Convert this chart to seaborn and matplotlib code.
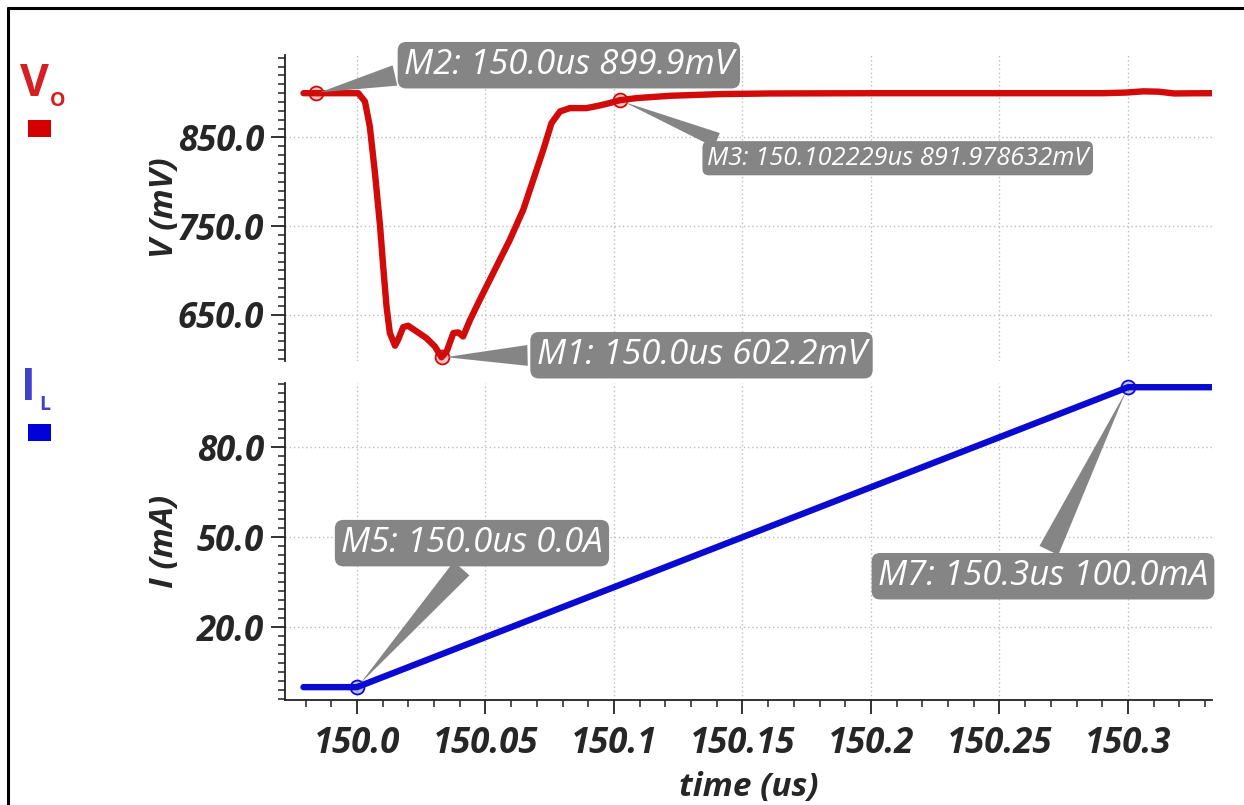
import matplotlib
matplotlib.use("Agg")
import matplotlib.pyplot as plt
import seaborn as sns
from matplotlib.ticker import FixedLocator, AutoMinorLocator, FixedFormatter
from matplotlib.lines import Line2D
from matplotlib.patches import Rectangle

# ---- waveform data -------------------------------------------------------
time_vo = [149.9792, 150.0005, 150.0031, 150.0050, 150.0070, 150.0090, 150.0102,
           150.0115, 150.0128, 150.0148, 150.0160, 150.0180, 150.0199, 150.0232,
           150.0270, 150.0303, 150.0329, 150.0349, 150.0375, 150.0394, 150.0413,
           150.0439, 150.0478, 150.0543, 150.0595, 150.0647, 150.0686, 150.0725,
           150.0757, 150.0790, 150.0828, 150.0893, 150.0939, 150.0984, 150.102229,
           150.1089, 150.1219, 150.1413, 150.1608, 150.2000, 150.2900, 150.2990,
           150.3060, 150.3120, 150.3180, 150.3250, 150.3327]
vo_mv = [899.9, 899.9, 890.6, 862.4, 809.9, 749.7, 704.6,
         659.5, 629.5, 615.2, 621.9, 636.2, 637.7, 631.3,
         623.8, 614.4, 602.2, 608.7, 629.5, 630.2, 625.6,
         643.6, 667.0, 704.6, 734.7, 768.5, 802.3, 836.1,
         866.2, 879.3, 883.1, 883.1, 885.7, 888.8, 891.978632,
         894.4, 897.0, 898.9, 899.6, 899.9, 899.9, 900.6,
         902.0, 901.6, 899.6, 899.8, 899.9]

time_il = [149.9792, 150.0, 150.3, 150.3327]
il_ma = [0.0, 0.0, 100.0, 100.0]

# measurement markers
vo_marker_names = ["M2", "M3", "M1"]
vo_marker_time = [149.984, 150.102229, 150.0329]
vo_marker_mv = [899.9, 891.978632, 602.2]
vo_marker_digits = [1, 6, 1]

il_marker_names = ["M5", "M7"]
il_marker_time = [150.0, 150.3]
il_marker_ma = [0.0, 100.0]

# axis ticks
x_ticks = [150.0, 150.05, 150.1, 150.15, 150.2, 150.25, 150.3]
x_tick_labels = ["150.0", "150.05", "150.1", "150.15", "150.2", "150.25", "150.3"]
vo_ticks = [650.0, 750.0, 850.0]
il_ticks = [20.0, 50.0, 80.0]

# ---- styling -------------------------------------------------------------
sns.set_style("ticks")
plt.rcParams["font.family"] = ["Open Sans", "DejaVu Sans"]

RED = "#d10a0a"
BLUE = "#0a0ad0"
BOX = "#858585"
GRID = "#bdbdbd"

fig = plt.figure(figsize=(12.44, 8.05), dpi=100)
ax_v = fig.add_axes([0.2291, 0.5516, 0.7452, 0.3801])
ax_i = fig.add_axes([0.2291, 0.1304, 0.7452, 0.3938])

xlim = (149.972, 150.3327)

sns.lineplot(x=time_vo, y=vo_mv, ax=ax_v, color=RED, linewidth=4.6, zorder=3)
sns.lineplot(x=time_il, y=il_ma, ax=ax_i, color=BLUE, linewidth=4.6, zorder=3)
for ln in ax_v.lines + ax_i.lines:
    ln.set_solid_joinstyle("round")

ax_v.set_ylim(598, 943)
ax_i.set_ylim(-4.3, 101.4)

tick_font = dict(family=["Open Sans", "DejaVu Sans"], style="italic", weight="bold", size=25)
label_font = dict(family=["Open Sans", "DejaVu Sans"], style="italic", weight="bold", size=24)

for ax, yt in ((ax_v, vo_ticks), (ax_i, il_ticks)):
    ax.set_xlim(*xlim)
    ax.xaxis.set_major_locator(FixedLocator(x_ticks))
    ax.xaxis.set_major_formatter(FixedFormatter(x_tick_labels))
    ax.xaxis.set_minor_locator(AutoMinorLocator(5))
    ax.yaxis.set_major_locator(FixedLocator(yt))
    ax.yaxis.set_major_formatter(FixedFormatter([f"{v:.1f}" for v in yt]))
    ax.yaxis.set_minor_locator(AutoMinorLocator(10))
    ax.grid(True, which="major", linestyle=(0, (1, 2)), color=GRID, linewidth=1.0)
    for side in ("top", "right"):
        ax.spines[side].set_visible(False)
    ax.spines["left"].set_color("#222222")
    ax.spines["left"].set_linewidth(1.3)
    ax.tick_params(axis="y", which="major", direction="out", length=10, width=1.3,
                   color="#222222", pad=5)
    ax.tick_params(axis="y", which="minor", direction="out", length=5, width=1.1,
                   color="#222222")
    for lab in ax.get_yticklabels():
        lab.set(**tick_font)
    ax.set_xlabel("")
    ax.set_ylabel("")

# upper pane: no bottom axis
ax_v.spines["bottom"].set_visible(False)
ax_v.tick_params(axis="x", which="both", bottom=False, labelbottom=False)

# lower pane: time axis
ax_i.spines["bottom"].set_color("#222222")
ax_i.spines["bottom"].set_linewidth(1.3)
ax_i.tick_params(axis="x", which="major", direction="out", length=10, width=1.3,
                 color="#222222", pad=9)
ax_i.tick_params(axis="x", which="minor", direction="out", length=5, width=1.1,
                 color="#222222")
for lab in ax_i.get_xticklabels():
    lab.set(**tick_font)

ax_v.set_ylabel("V (mV)", **label_font)
ax_i.set_ylabel("I (mA)", **label_font)
ax_i.set_xlabel("time (us)", labelpad=6, **label_font)
ax_v.yaxis.set_label_coords(-0.112, 0.5)
ax_i.yaxis.set_label_coords(-0.112, 0.5)

# ---- measurement markers and callouts -----------------------------------
note_font = dict(family=["Open Sans", "DejaVu Sans"], style="italic", color="white")

vo_offsets = [(253, 28), (278, -58), (260, 2)]
vo_relpos = [(0.02, 0.3), (0.07, 0.95), (0.0, 0.5)]
vo_sizes = [25, 18.3, 25]
for name, t, v, nd, off, rp, fs in zip(vo_marker_names, vo_marker_time, vo_marker_mv,
                                       vo_marker_digits, vo_offsets, vo_relpos, vo_sizes):
    ax_v.plot([t], [v], "o", ms=10, mfc=(0.82, 0.04, 0.04, 0.25), mec=RED, mew=1.3,
              zorder=4, clip_on=False)
    ax_v.annotate(f"{name}: {t:.{nd}f}us {v:.{nd}f}mV", xy=(t, v), xytext=off,
                  textcoords="offset pixels", ha="center", va="center", fontsize=fs,
                  bbox=dict(boxstyle="round,pad=0.18,rounding_size=0.25", fc=BOX, ec="none"),
                  arrowprops=dict(arrowstyle="wedge,tail_width=0.6,shrink_factor=0.5",
                                  fc=BOX, ec="none", relpos=rp, shrinkB=3),
                  zorder=5, annotation_clip=False, **note_font)

il_offsets = [(115, 144), (-85, -189)]
il_relpos = [(0.5, 0.1), (0.5, 0.9)]
for name, t, i, off, rp in zip(il_marker_names, il_marker_time, il_marker_ma,
                               il_offsets, il_relpos):
    ax_i.plot([t], [i], "o", ms=10, mfc=(0.04, 0.04, 0.82, 0.25), mec=BLUE, mew=1.3,
              zorder=4, clip_on=False)
    val = f"{i / 1000:.1f}A" if i == 0 else f"{i:.1f}mA"
    ax_i.annotate(f"{name}: {t:.1f}us {val}", xy=(t, i), xytext=off,
                  textcoords="offset pixels", ha="center", va="center", fontsize=25,
                  bbox=dict(boxstyle="round,pad=0.18,rounding_size=0.25", fc=BOX, ec="none"),
                  arrowprops=dict(arrowstyle="wedge,tail_width=0.6,shrink_factor=0.5",
                                  fc=BOX, ec="none", relpos=rp, shrinkB=3),
                  zorder=5, annotation_clip=False, **note_font)

# ---- signal legend on the left ------------------------------------------
W, H = 1244, 805
def fx(px):
    return px / W
def fy(py):
    return 1 - py / H

leg_font = dict(family=["Open Sans", "DejaVu Sans"], weight="bold")
fig.text(fx(20), fy(96), "V", color="#d42020", fontsize=32, ha="left", va="baseline", **leg_font)
fig.text(fx(50), fy(106), "O", color="#d42020", fontsize=14, ha="left", va="baseline", **leg_font)
fig.patches.append(Rectangle((fx(28), fy(137)), 23 / W, 17 / H, transform=fig.transFigure,
                             fc="#d40000", ec="none"))
fig.text(fx(21), fy(400), "I", color="#4040c8", fontsize=32, ha="left", va="baseline", **leg_font)
fig.text(fx(39), fy(410), "L", color="#4040c8", fontsize=14, ha="left", va="baseline", **leg_font)
fig.patches.append(Rectangle((fx(28), fy(441)), 23 / W, 17 / H, transform=fig.transFigure,
                             fc="#0000d8", ec="none"))

# window frame
fig.add_artist(Line2D([fx(8), 1.0], [fy(8), fy(8)], transform=fig.transFigure,
                      color="black", linewidth=2.2))
fig.add_artist(Line2D([fx(8), fx(8)], [0.0, fy(8)], transform=fig.transFigure,
                      color="black", linewidth=2.2))

fig.savefig("out.png", dpi=100, facecolor="white")
